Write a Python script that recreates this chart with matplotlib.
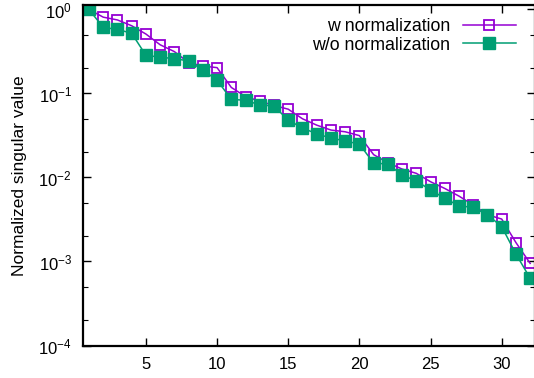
"""Normalized singular values, with and without normalization (log scale)."""

import matplotlib

matplotlib.use("Agg")
import matplotlib.pyplot as plt
from matplotlib.ticker import FixedLocator, FixedFormatter, NullLocator

plt.rcParams["font.family"] = ["Liberation Sans", "DejaVu Sans"]
plt.rcParams["mathtext.fontset"] = "custom"
plt.rcParams["mathtext.rm"] = "Liberation Sans"
plt.rcParams["mathtext.it"] = "Liberation Sans:italic"

# data
index = list(range(1, 33))
with_norm = [1.0, 0.81, 0.75, 0.64, 0.51, 0.38, 0.315, 0.233, 0.212, 0.203,
             0.118, 0.092, 0.081, 0.072, 0.065, 0.050, 0.042, 0.0367, 0.035, 0.0315,
             0.0187, 0.015, 0.0126, 0.0112, 0.0089, 0.0074, 0.0060, 0.0047, 0.0036, 0.0032,
             0.00168, 0.00095]
without_norm = [1.0, 0.61, 0.58, 0.52, 0.285, 0.27, 0.26, 0.244, 0.19, 0.144,
                0.085, 0.083, 0.073, 0.071, 0.048, 0.039, 0.033, 0.0295, 0.0272, 0.025,
                0.0148, 0.0145, 0.0107, 0.0091, 0.0071, 0.00565, 0.0046, 0.0044, 0.0036, 0.0026,
                0.00123, 0.00063]
x_ticks = [5, 10, 15, 20, 25, 30]
y_ticks = [1e-4, 1e-3, 1e-2, 1e-1, 1e0]
y_tick_labels = ["$10^{-4}$", "$10^{-3}$", "$10^{-2}$", "$10^{-1}$", "$10^{0}$"]

W, H = 534, 378
fig = plt.figure(figsize=(W / 100, H / 100), dpi=100)
left, right, top, bottom = 83, 535, 5, 345.5
ax = fig.add_axes([left / W, (H - bottom) / H, (right - left) / W, (bottom - top) / H])

ax.plot(index, with_norm, color="#9400D3", lw=1.1, marker="s", ms=7.8,
        mfc="none", mec="#9400D3", mew=1.3, label="w normalization")
ax.plot(index, without_norm, color="#009E73", lw=1.1, marker="s", ms=8,
        mfc="#009E73", mec="#009E73", label="w/o normalization")

ax.set_yscale("log")
ax.set_xlim(0.58, 32.34)
ax.set_ylim(1e-4, 1.13)

ax.xaxis.set_major_locator(FixedLocator(x_ticks))
ax.xaxis.set_minor_locator(NullLocator())
ax.yaxis.set_major_locator(FixedLocator(y_ticks))
ax.yaxis.set_major_formatter(FixedFormatter(y_tick_labels))
minor = [m * 10.0 ** e for e in range(-4, 0) for m in (2, 5)]
ax.yaxis.set_minor_locator(FixedLocator(minor))
ax.yaxis.set_minor_formatter(FixedFormatter([""] * len(minor)))

ax.tick_params(which="both", direction="in", top=True, right=True,
               labelsize=12, color="black")
ax.tick_params(which="major", length=6, width=1.0, pad=8)
ax.tick_params(which="minor", length=3.5, width=0.8)
for s in ax.spines.values():
    s.set_linewidth(1.6)

ax.set_ylabel("Normalized singular value", fontsize=12.5, labelpad=8)

ax.legend(loc="upper right", frameon=False, markerfirst=False, fontsize=12.8,
          handlelength=3.0, handletextpad=0.7, borderpad=0, borderaxespad=0,
          labelspacing=0.1, bbox_to_anchor=(0.958, 0.962))

fig.savefig("out.png", dpi=100)
